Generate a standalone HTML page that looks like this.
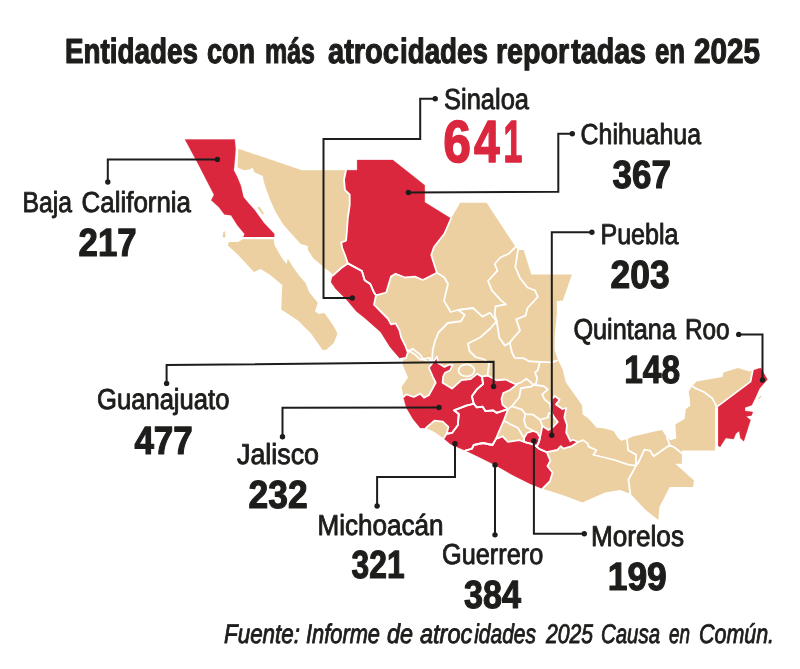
<!DOCTYPE html>
<html lang="es">
<head>
<meta charset="utf-8">
<title>Entidades con más atrocidades reportadas en 2025</title>
<style>
html,body{margin:0;padding:0;background:#fff;}
body{width:800px;height:669px;overflow:hidden;}
svg{display:block;}
text{font-family:"Liberation Sans",sans-serif;fill:#1d1d1b;stroke:#1d1d1b;stroke-width:.9;stroke-linejoin:round;text-rendering:geometricPrecision;}
.b{font-weight:700;stroke-width:1.2;}
.r{font-weight:700;fill:#DB273E;stroke:#DB273E;stroke-width:1.5;}
.i{font-style:italic;stroke-width:.9;}
.st{stroke:#fff;stroke-width:1.3;stroke-linejoin:round;}
.bd{fill:none;stroke:#fff;stroke-width:1.8;stroke-linejoin:round;stroke-linecap:round;}
.ld{fill:none;stroke:#1d1d1b;stroke-width:2;stroke-linejoin:miter;}
.dot{fill:#1d1d1b;}
</style>
</head>
<body>
<svg width="800" height="669" viewBox="0 0 800 669">
<rect width="800" height="669" fill="#fff"/>
<g id="map">
<polygon points="238.4,148.75 302,170.3 346,170.3 357.2,170.3 357.2,160 392.8,160 424.7,185.3 424.7,202.2 451,218.5 460.3,202.8 486.6,202.8 515.6,246.9 518,250 523.75,250 531.25,274.6 572,274.6 562.8,300.5 556.8,301.3 556.8,314.6 556.2,320 554.7,336.25 554.6,350 558,360.1 562.5,369.1 565.9,382.6 574.1,394 582,405.25 582.6,414.25 588.75,418.75 596.6,427.75 603.4,428.3 613.5,431.1 618,437.9 621.4,440.7 627,439 633.75,436.2 644.4,434 651.9,431.9 662,430 666.9,437.5 670.6,440.3 676.25,438.4 675.3,424.4 684.7,418.75 685.6,409.4 690.3,405.6 689.75,398 688.6,391.75 692,386 696.5,381.6 722.4,377 723.5,372.6 738,368 749.4,371.5 752.75,370.4 760.6,368 767.4,379.4 759.5,388.4 755,398.5 751.6,405.25 745,407.5 745,411 752.75,412 751.6,415.4 746,416.5 750.5,420 743.75,441.25 740.4,437.9 739.25,431 735.9,433.4 733.6,439 725.75,437.9 720,446.9 716.75,444.6 715,450.6 681.9,450.6 681.9,463.75 675.3,463.75 694,480.6 693,487 669.7,487 659.4,506.9 658.4,520 646.25,510.6 630.3,493.75 620,490 605,492.5 582.5,502.5 562.5,495 542.5,488.75 530,483.75 512.5,475 495,465 480,457.5 477.5,456.25 465.3,450.6 458.75,447.8 450.3,444 443.75,438.4 434.4,431.9 425.9,428 420.3,428 412.8,418.75 406.25,407.5 403.4,397 401.6,386.9 408,377.5 402.5,364.4 404,357 400.3,359 390,346.9 380.6,331.9 365.6,318.75 356.25,311.25 346.9,300 335.6,288.75 331,282 332.8,275.6 331,272.8 324.4,268 321.2,265 313.5,258.6 307.8,249.7 307.8,246 300.8,244 293.2,235.7 283,224.3 275.4,211.6 270.3,200.2 266.5,190 263.75,181.6 262.8,176 258,174 254.4,172.2 252.5,167.5 249.7,169.4 244,170.3 237.5,167.5" fill="#ECD0A2"/>
<polygon points="242.8,239.2 273.75,239.2 274.7,245.6 281.25,256.9 286.5,264 287.8,258.75 292.5,266.25 299,275.6 305.6,283 309.4,292.5 317.8,302.8 315,311.25 318.75,314 324.4,313 333.75,326.25 337.5,333.75 333.75,343 326.25,349.7 322.5,350 311.25,333.75 298,320.6 281.25,309.4 282.2,285 270,274.7 260.6,269 254,271.9 237.2,254 227.8,245.6 228.75,241.9 238,241.9" fill="#ECD0A2"/>
<polygon points="257.5,207.5 259.5,206.8 264,213.5 262.5,214.8" fill="#ECD0A2"/>
<polygon points="223.5,231.5 225,231.5 225.5,237.5 222.5,237" fill="#ECD0A2"/>
<polygon points="758,398.5 760.5,395.5 761.5,396.5 759,399.5" fill="#ECD0A2"/>
<polygon points="185,139.5 234.7,139.5 235.6,148.75 234.8,160 233.75,170.3 237,176.5 240.9,186 243.4,197 248.75,203.6 254.4,209.7 263.75,222.8 274.2,233.8 274.2,238 243,238 244.6,234 237.5,225.6 231,215.3 224.4,214.4 218.75,206.9 211.25,200.3 214,194.7 198,163.75" fill="#DB273E" stroke="#DB273E" stroke-width=".3"/>
<polygon points="346,170.3 357.2,170.3 357.2,160 392.8,160 424.7,185.3 424.7,202.2 451,218.5 444.4,233.75 434,247 431.25,255 436.9,272.8 422.8,280 415,276.6 405,277.5 395.6,273.75 391,276.6 386.25,292.5 376,295.3 374,292.5 370.3,284 364.7,280.3 361.9,271 347.8,263.4 345,255 342.2,248 341.25,242.5 346,240.6 346.9,231.25 347.8,218 349.7,205 349.7,194.7 345,190 344,179.7" fill="#DB273E" stroke="#DB273E" stroke-width=".3"/>
<polygon points="347.8,263.4 361.9,271 364.7,280.3 370.3,284 374,292.5 376,295.3 374,304.7 380.6,311.25 388,318.75 391,324.4 395.6,323.4 399.4,330 401.25,337.5 405,345 407.8,352.5 406,358 400.3,359 390,346.9 380.6,331.9 365.6,318.75 356.25,311.25 346.9,300 335.6,288.75 331,282 332.8,275.6 341.25,268" fill="#DB273E" stroke="#DB273E" stroke-width=".3"/>
<polygon points="428.8,367.6 431.3,364.5 437,356.5 438.2,363.2 440.7,364.5 444.5,367 449.5,364.5 452.7,365.1 450.2,370.2 445.1,372.7 443.2,376.4 442.6,382.7 452,388.6 461.5,380.2 470.3,379.2 477.2,373.9 482,376.6 483,384 476.6,389.7 471.9,396.25 473.75,403.75 466.25,405.6 454,410.3 458.75,414 457.8,425.3 452.2,432.8 446.6,433.75 448.4,427 442.8,421.6 434.4,420.6 425.9,428 420.3,428 412.8,418.75 406.25,407.5 403.4,397 406.25,394.4 413.75,397 420.3,393.6 424,397.6 428.8,395.3 435.7,382.7 432.6,376.4" fill="#DB273E" stroke="#DB273E" stroke-width=".3"/>
<polygon points="482,376.6 487.5,375.5 496.5,380.25 505.5,379.5 516.75,384.75 510,390 503.25,393 501.5,399 502.5,404.7 508,409.2 496.5,412.8 493,410.3 485.5,411.2 482.5,406.6 476.8,407.4 473.75,403.75 471.9,396.25 476.6,389.7 483,384" fill="#DB273E" stroke="#DB273E" stroke-width=".3"/>
<polygon points="473.75,403.75 476.8,407.4 482.5,406.6 485.5,411.2 493,410.3 496.5,412.8 508,409.2 503.75,420.6 498,433.75 496.25,438.4 492.5,445 483,443 473.75,445 471.9,448.75 465.3,450.6 458.75,447.8 450.3,444 443.75,438.4 446.6,433.75 452.2,432.8 457.8,425.3 458.75,414 454,410.3 466.25,405.6" fill="#DB273E" stroke="#DB273E" stroke-width=".3"/>
<polygon points="496.25,438.4 498.75,438 502.5,436.25 508,441.9 519.4,440.2 524.3,442 527.5,442.9 532.75,444.2 536.6,446.5 538.9,448.7 546.75,452.2 550.3,460.6 547.5,466.25 552.5,472.5 550,481.25 542.5,488.75 530,483.75 512.5,475 495,465 480,457.5 465.3,450.6 471.9,448.75 473.75,445 483,443 492.5,445" fill="#DB273E" stroke="#DB273E" stroke-width=".3"/>
<polygon points="524,438 527,433 533.2,430.8 537,432.3 540,437.3 539,441.8 536.6,446.5 532.75,444.2 527.5,442.9 524.3,442" fill="#DB273E" stroke="#DB273E" stroke-width=".3"/>
<polygon points="552,398.75 555,396 559.7,399.7 556,404.4 562.5,409 566.25,408 564.4,417.5 567,425 566.25,432.5 570.4,441 573,439.8 578,442 571.25,446.4 563.4,448.7 560.75,446.1 557.25,450 546.75,452.2 538.9,448.7 536.6,446.5 539,441.8 540,437.3 541.1,432.5 542.4,425.9 548.5,429.9 553,427 557.8,422 555,418.4 552,413.75 550.3,406.25" fill="#DB273E" stroke="#DB273E" stroke-width=".3"/>
<polygon points="752.75,370.4 760.6,368 767.4,379.4 759.5,388.4 755,398.5 751.6,405.25 745,407.5 745,411 752.75,412 751.6,415.4 746,416.5 750.5,420 743.75,441.25 740.4,437.9 739.25,431 735.9,433.4 733.6,439 725.75,437.9 720,446.9 717.2,444.6 717.2,406.6 750.5,381.6" fill="#DB273E" stroke="#DB273E" stroke-width=".3"/>
<polyline class="bd" points="274.2,238.0 243.0,238.0"/>
<polyline class="bd" points="451.0,218.5 444.4,233.75 434.0,247.0 431.25,255.0 436.9,272.8 422.8,280.0 415.0,276.6 405.0,277.5 395.6,273.75 391.0,276.6 386.25,292.5 376.0,295.3 374.0,292.5 370.3,284.0 364.7,280.3 361.9,271.0 347.8,263.4 345.0,255.0 342.2,248.0 341.25,242.5 346.0,240.6 346.9,231.25 347.8,218.0 349.7,205.0 349.7,194.7 345.0,190.0 344.0,179.7 346.0,170.3"/>
<polyline class="bd" points="347.8,263.4 361.9,271.0 364.7,280.3 370.3,284.0 374.0,292.5 376.0,295.3 374.0,304.7 380.6,311.25 388.0,318.75 391.0,324.4 395.6,323.4 399.4,330.0 401.25,337.5 405.0,345.0 407.8,352.5 406.0,358.0 400.3,359.0"/>
<polyline class="bd" points="332.8,275.6 341.25,268.0 347.8,263.4"/>
<polyline class="bd" points="428.8,367.6 431.3,364.5 437.0,356.5 438.2,363.2 440.7,364.5 444.5,367.0 449.5,364.5 452.7,365.1 450.2,370.2 445.1,372.7 443.2,376.4 442.6,382.7 452.0,388.6 461.5,380.2 470.3,379.2 477.2,373.9 482.0,376.6 483.0,384.0 476.6,389.7 471.9,396.25 473.75,403.75 466.25,405.6 454.0,410.3 458.75,414.0 457.8,425.3 452.2,432.8 446.6,433.75 448.4,427.0 442.8,421.6 434.4,420.6 425.9,428.0"/>
<polyline class="bd" points="403.4,397.0 406.25,394.4 413.75,397.0 420.3,393.6 424.0,397.6 428.8,395.3 435.7,382.7 432.6,376.4 428.8,367.6"/>
<polyline class="bd" points="482.0,376.6 487.5,375.5 496.5,380.25 505.5,379.5 516.75,384.75 510.0,390.0 503.25,393.0 501.5,399.0 502.5,404.7 508.0,409.2 496.5,412.8 493.0,410.3 485.5,411.2 482.5,406.6 476.8,407.4 473.75,403.75 471.9,396.25 476.6,389.7 483.0,384.0 482.0,376.6"/>
<polyline class="bd" points="473.75,403.75 476.8,407.4 482.5,406.6 485.5,411.2 493.0,410.3 496.5,412.8 508.0,409.2 503.75,420.6 498.0,433.75 496.25,438.4 492.5,445.0 483.0,443.0 473.75,445.0 471.9,448.75 465.3,450.6"/>
<polyline class="bd" points="443.75,438.4 446.6,433.75 452.2,432.8 457.8,425.3 458.75,414.0 454.0,410.3 466.25,405.6 473.75,403.75"/>
<polyline class="bd" points="496.25,438.4 498.75,438.0 502.5,436.25 508.0,441.9 519.4,440.2 524.3,442.0 527.5,442.9 532.75,444.2 536.6,446.5 538.9,448.7 546.75,452.2 550.3,460.6 547.5,466.25 552.5,472.5 550.0,481.25 542.5,488.75"/>
<polyline class="bd" points="465.3,450.6 471.9,448.75 473.75,445.0 483.0,443.0 492.5,445.0 496.25,438.4"/>
<polyline class="bd" points="524.0,438.0 527.0,433.0 533.2,430.8 537.0,432.3 540.0,437.3 539.0,441.8 536.6,446.5 532.75,444.2 527.5,442.9 524.3,442.0 524.0,438.0"/>
<polyline class="bd" points="552.0,398.75 555.0,396.0 559.7,399.7 556.0,404.4 562.5,409.0 566.25,408.0 564.4,417.5 567.0,425.0 566.25,432.5 570.4,441.0 573.0,439.8 578.0,442.0 571.25,446.4 563.4,448.7 560.75,446.1 557.25,450.0 546.75,452.2 538.9,448.7 536.6,446.5 539.0,441.8 540.0,437.3 541.1,432.5 542.4,425.9 548.5,429.9 553.0,427.0 557.8,422.0 555.0,418.4 552.0,413.75 550.3,406.25 552.0,398.75"/>
<polyline class="bd" points="717.2,444.6 717.2,406.6 750.5,381.6 752.75,370.4"/>
<polyline class="bd" points="436.9,272.8 444.4,277.5 448,284 444,300.6 450.6,312 458,310 464.7,314.7 461,321.25 447.8,323 438.4,332.5 435,341.25 432.8,349.4 431.9,362.5"/>
<polyline class="bd" points="407.8,352.5 412.5,348.75 420,354.4 423.75,360 431.9,362.5"/>
<polyline class="bd" points="408,350 415.6,355 420.3,359.7 429.7,357.8 431.3,364.5"/>
<polyline class="bd" points="458,310 473,308 482.5,316.6 490,312.8 496.6,321.25"/>
<polyline class="bd" points="515.6,246.9 508.75,253.75 500.3,257.5 494.7,264 497.5,270.6 488,281 491.9,290.3 501.25,300.6 506,304.4 495.6,306.25 494.7,313.75 496.6,321.25"/>
<polyline class="bd" points="518,250 515.3,266.9 520,278 527.5,287.5 535,290.3 537.8,296.9 527.5,308 525.6,315.6 516.25,319.4 520,330.6 513.4,338 509.7,342.8"/>
<polyline class="bd" points="496.6,321.25 499.4,338 505,345.6 509.7,342.8"/>
<polyline class="bd" points="509.7,342.8 511.9,352.25 514.7,357.9 524.25,358.4 528.75,361.25 540,361.8 551.25,362.4 556.9,360.7"/>
<polyline class="bd" points="496.6,321.25 490,328.75 480,337.5 468,343.5 469.5,351 475.5,357 483.75,359.25 489,363 487.5,375.5"/>
<polyline class="bd" points="540,361.8 537.75,370.25 535,372.5 537.2,378.1 536,383.75 533.25,384.9 530.4,382 526.5,378.7 520.9,382.6 516.9,383.75"/>
<polyline class="bd" points="533.25,384.9 543.4,386 547.9,389.4 542.25,394.4 544.5,399.5 549,402.9 550.7,405.1"/>
<polyline class="bd" points="533.25,384.9 531.5,386.5 520.9,388.25 519.2,397.25 511.9,406.25 508,409.2"/>
<polyline class="bd" points="511.9,406.25 522,409.6 525.4,414.1 533.25,414.7 540,419.75 547.9,417.5 549,413 552,413.75"/>
<polyline class="bd" points="503.75,420.6 510,424 518,428 524,438"/>
<polyline class="bd" points="525.4,414.1 524,420 526,427 533.2,430.8"/>
<polyline class="bd" points="540,419.75 542.4,425.9"/>
<polyline class="bd" points="578,442 583.1,440.1 587.6,443.5 588.75,446.9 596.6,450.25 593.25,454.75 602.25,457 614.4,460 628.4,464.7 636,465.6 628.4,479.7 630.3,493.75"/>
<polyline class="bd" points="627,439 628.1,450.25 636,454.6 636,465.6"/>
<polyline class="bd" points="636,465.6 638.75,461.9 644.4,449.7 650,450.6 653.75,456.25 669.7,445 675,447.8 681.9,453.4"/>
<polyline class="bd" points="666.9,437.5 669.7,445"/>
<polyline class="bd" points="716,406.8 716,450"/>
<polyline class="bd" points="692,386 695.4,388.2 704,392 712.25,398.2 716.5,406.4"/>
<ellipse class="bd" cx="466.5" cy="370.4" rx="8" ry="6"/>
</g>
<g id="leaders">
<polyline class="ld" points="107.8,182 107.8,159.4 217.4,159.4"/>
<circle class="dot" cx="107.8" cy="182" r="2.7"/>
<circle class="dot" cx="217.4" cy="159.4" r="2.7"/>
<polyline class="ld" points="435.2,98.8 420.2,98.8 420.2,139 323.5,139 323.5,298 352.3,298"/>
<circle class="dot" cx="435.2" cy="98.8" r="2.7"/>
<circle class="dot" cx="352.3" cy="298" r="2.7"/>
<polyline class="ld" points="572.3,133.75 558.3,133.75 558.3,191.8 408.4,192.5"/>
<circle class="dot" cx="572.3" cy="133.75" r="2.7"/>
<circle class="dot" cx="408.4" cy="192.5" r="2.7"/>
<polyline class="ld" points="591.9,232.2 551.8,232.2 551.8,435.3"/>
<circle class="dot" cx="591.9" cy="232.2" r="2.7"/>
<circle class="dot" cx="551.8" cy="435.3" r="2.7"/>
<polyline class="ld" points="738.75,334.4 762.5,334.4 762.5,380"/>
<circle class="dot" cx="738.75" cy="334.4" r="2.7"/>
<circle class="dot" cx="762.5" cy="380" r="2.7"/>
<polyline class="ld" points="166.6,383.4 166.6,365.1 493.6,361.7 493.6,386.5"/>
<circle class="dot" cx="166.6" cy="383.4" r="2.7"/>
<circle class="dot" cx="493.6" cy="386.5" r="2.7"/>
<polyline class="ld" points="282.5,436.8 282.5,407.7 439,407.5"/>
<circle class="dot" cx="282.5" cy="436.8" r="2.7"/>
<circle class="dot" cx="439" cy="407.5" r="2.7"/>
<polyline class="ld" points="377.1,506 377.1,477.1 455,477.1 455,443.7"/>
<circle class="dot" cx="377.1" cy="506" r="2.7"/>
<circle class="dot" cx="455" cy="443.7" r="2.7"/>
<polyline class="ld" points="495,534.85 495,465"/>
<circle class="dot" cx="495" cy="534.85" r="2.7"/>
<circle class="dot" cx="495" cy="465" r="2.7"/>
<polyline class="ld" points="584.3,533.75 533.9,533.75 533.9,441"/>
<circle class="dot" cx="584.3" cy="533.75" r="2.7"/>
<circle class="dot" cx="533.9" cy="441" r="2.7"/>
</g>
<g id="labels">
<text class="b" aria-label="Entidades con más atrocidades reportadas en 2025" y="63.0" font-size="34.9"><tspan x="64.99" textLength="133.01" lengthAdjust="spacingAndGlyphs">Entidades</tspan> <tspan x="206.97" textLength="48.08" lengthAdjust="spacingAndGlyphs">con</tspan> <tspan x="264.99" textLength="50.01" lengthAdjust="spacingAndGlyphs">más</tspan> <tspan x="328.00" textLength="71.01" lengthAdjust="spacingAndGlyphs">atroc</tspan><tspan x="399.98" textLength="88.03" lengthAdjust="spacingAndGlyphs">idades</tspan> <tspan x="495.98" textLength="73.22" lengthAdjust="spacingAndGlyphs">repor</tspan><tspan x="571.20" textLength="74.82" lengthAdjust="spacingAndGlyphs">tadas</tspan> <tspan x="655.00" textLength="30.05" lengthAdjust="spacingAndGlyphs">en</tspan> <tspan x="693.99" textLength="66.01" lengthAdjust="spacingAndGlyphs">2025</tspan></text>
<text y="212.1" font-size="28.9"><tspan x="22.56" textLength="49.44" lengthAdjust="spacingAndGlyphs">Baja</tspan> <tspan x="81.59" textLength="109.40" lengthAdjust="spacingAndGlyphs">California</tspan></text>
<text class="b" y="256.4" font-size="39.4"><tspan x="78.60" textLength="58.01" lengthAdjust="spacingAndGlyphs">217</tspan></text>
<text y="109.0" font-size="28.9"><tspan x="443.99" textLength="85.01" lengthAdjust="spacingAndGlyphs">Sinaloa</tspan></text>
<text class="r" aria-label="641" y="162.0" font-size="59.6"><tspan x="443.33" textLength="27.75" lengthAdjust="spacingAndGlyphs">6</tspan><tspan x="473.96" textLength="25.69" lengthAdjust="spacingAndGlyphs">4</tspan><tspan x="503.42" textLength="18.82" lengthAdjust="spacingAndGlyphs">1</tspan></text>
<text y="143.5" font-size="28.9"><tspan x="580.59" textLength="120.41" lengthAdjust="spacingAndGlyphs">Chihuahua</tspan></text>
<text class="b" y="187.5" font-size="39.4"><tspan x="612.60" textLength="58.41" lengthAdjust="spacingAndGlyphs">367</tspan></text>
<text y="243.5" font-size="28.9"><tspan x="600.39" textLength="78.21" lengthAdjust="spacingAndGlyphs">Puebla</tspan></text>
<text class="b" y="287.5" font-size="39.4"><tspan x="610.58" textLength="59.02" lengthAdjust="spacingAndGlyphs">203</tspan></text>
<text y="338.9" font-size="28.9"><tspan x="573.40" textLength="102.61" lengthAdjust="spacingAndGlyphs">Quintana</tspan> <tspan x="684.93" textLength="44.69" lengthAdjust="spacingAndGlyphs">Roo</tspan></text>
<text class="b" y="382.5" font-size="39.4"><tspan x="624.15" textLength="55.88" lengthAdjust="spacingAndGlyphs">148</tspan></text>
<text y="409.3" font-size="28.9"><tspan x="96.99" textLength="132.41" lengthAdjust="spacingAndGlyphs">Guanajuato</tspan></text>
<text class="b" y="453.5" font-size="39.4"><tspan x="134.40" textLength="58.42" lengthAdjust="spacingAndGlyphs">477</tspan></text>
<text y="463.6" font-size="28.9"><tspan x="236.99" textLength="82.02" lengthAdjust="spacingAndGlyphs">Jalisco</tspan></text>
<text class="b" y="507.8" font-size="39.4"><tspan x="248.58" textLength="59.04" lengthAdjust="spacingAndGlyphs">232</tspan></text>
<text y="534.7" font-size="28.9"><tspan x="317.58" textLength="126.04" lengthAdjust="spacingAndGlyphs">Michoacán</tspan></text>
<text class="b" y="578.3" font-size="39.4"><tspan x="351.59" textLength="53.02" lengthAdjust="spacingAndGlyphs">321</tspan></text>
<text y="564.4" font-size="28.9"><tspan x="442.00" textLength="101.21" lengthAdjust="spacingAndGlyphs">Guerrero</tspan></text>
<text class="b" y="608.3" font-size="39.4"><tspan x="464.00" textLength="57.01" lengthAdjust="spacingAndGlyphs">384</tspan></text>
<text y="546.4" font-size="28.9"><tspan x="590.97" textLength="93.03" lengthAdjust="spacingAndGlyphs">Morelos</tspan></text>
<text class="b" y="590.3" font-size="39.4"><tspan x="607.73" textLength="59.07" lengthAdjust="spacingAndGlyphs">199</tspan></text>
<text class="i" aria-label="Fuente: Informe de atrocidades 2025 Causa en Común." y="642.9" font-size="27.0"><tspan x="223.99" textLength="76.03" lengthAdjust="spacingAndGlyphs">Fuente:</tspan> <tspan x="305.99" textLength="74.01" lengthAdjust="spacingAndGlyphs">Informe</tspan> <tspan x="387.00" textLength="26.02" lengthAdjust="spacingAndGlyphs">de</tspan> <tspan x="420.00" textLength="52.21" lengthAdjust="spacingAndGlyphs">atroc</tspan><tspan x="474.19" textLength="61.82" lengthAdjust="spacingAndGlyphs">idades</tspan> <tspan x="545.97" textLength="47.05" lengthAdjust="spacingAndGlyphs">2025</tspan> <tspan x="600.98" textLength="59.02" lengthAdjust="spacingAndGlyphs">Causa</tspan> <tspan x="668.98" textLength="21.02" lengthAdjust="spacingAndGlyphs">en</tspan> <tspan x="698.98" textLength="75.09" lengthAdjust="spacingAndGlyphs">Común.</tspan></text>
</g>
</svg>
</body>
</html>
